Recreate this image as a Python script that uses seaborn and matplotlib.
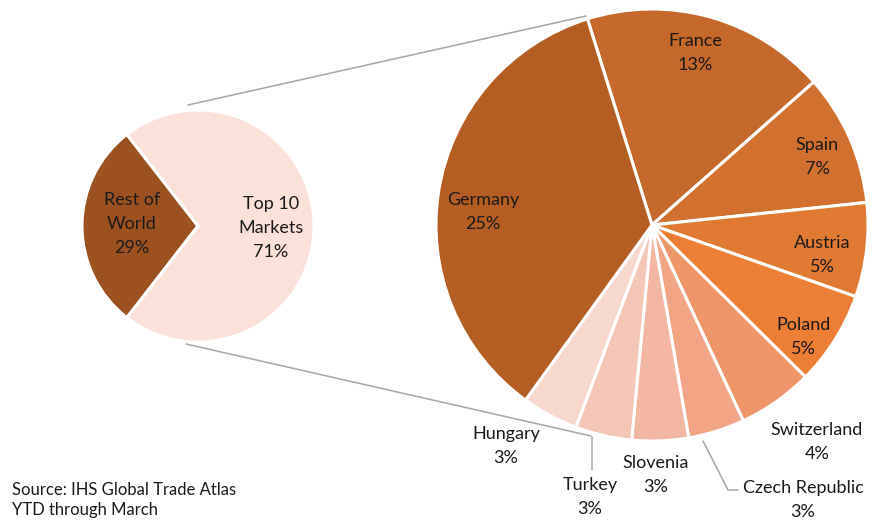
import matplotlib
matplotlib.use("Agg")
import matplotlib.pyplot as plt
import seaborn as sns

# ---- data ----
outer_labels = ["Rest of\nWorld", "Top 10\nMarkets"]
outer_values = [29, 71]
outer_colors = ["#9C5220", "#FBE1D8"]

markets = ["France", "Spain", "Austria", "Poland", "Switzerland",
           "Czech Republic", "Slovenia", "Turkey", "Hungary", "Germany"]
market_values = [13, 7, 5, 5, 4, 3, 3, 3, 3, 25]
market_colors = ["#C4682B", "#D2712F", "#E07A33", "#EC7F35", "#EF956A",
                 "#F1A585", "#F3B6A0", "#F5C5B5", "#F8D7CD", "#B45E23"]

source_lines = ["Source: IHS Global Trade Atlas", "YTD through March"]

sns.set_theme(style="white")
plt.rcParams["font.family"] = ["Lato", "DejaVu Sans"]

W, H = 876, 520
fig = plt.figure(figsize=(W / 100, H / 100), dpi=100)
ax = fig.add_axes([0, 0, 1, 1])
ax.set_xlim(0, W)
ax.set_ylim(0, H)
ax.set_aspect("equal")
ax.axis("off")

def Y(y):
    return H - y

# small pie
sc = (198, Y(226)); sr = 116
ax.pie(outer_values, colors=outer_colors, center=sc, radius=sr,
       startangle=180 - outer_values[0] / sum(outer_values) * 180,
       counterclock=True, wedgeprops=dict(edgecolor="white", linewidth=2.2),
       frame=True)

# big pie
bc = (652, Y(225)); br = 216
ax.pie(market_values, colors=market_colors, center=bc, radius=br,
       startangle=107.4, counterclock=False,
       wedgeprops=dict(edgecolor="white", linewidth=2.2), frame=True)
ax.set_xlim(0, W)
ax.set_ylim(0, H)
ax.axis("off")

# connector lines
gray = "#A6A6A6"
ax.plot([188, 586], [Y(105), Y(16)], color=gray, lw=1.1, zorder=0.5)
ax.plot([186, 591], [Y(344), Y(436)], color=gray, lw=1.1, zorder=0.5)
# leader lines
ax.plot([592, 592], [Y(437), Y(470)], color=gray, lw=1.1)
ax.plot([703, 728, 738], [Y(441), Y(490), Y(490)], color=gray, lw=1.1)

fs = 13
def lab(x, y, s):
    ax.text(x, Y(y), s, ha="center", va="center", fontsize=fs,
            color="#1a1a1a", linespacing=1.6)

lab(132, 224, "Rest of\nWorld\n29%")
lab(271, 228, "Top 10\nMarkets\n71%")

pct = {m: f"{v}%" for m, v in zip(markets, market_values)}
pos = {"Germany": (483, 212), "France": (695, 53), "Spain": (817, 157),
       "Austria": (822, 255), "Poland": (803, 337), "Switzerland": (817, 442),
       "Czech Republic": (803, 500), "Slovenia": (656, 475),
       "Turkey": (590, 497), "Hungary": (506, 446)}
for m in markets:
    x, y = pos[m]
    lab(x, y, f"{m}\n{pct[m]}")

ax.text(12, Y(490), source_lines[0], ha="left", va="center", fontsize=12, color="#1a1a1a")
ax.text(12, Y(510), source_lines[1], ha="left", va="center", fontsize=12, color="#1a1a1a")

fig.savefig("out.png", dpi=100)
